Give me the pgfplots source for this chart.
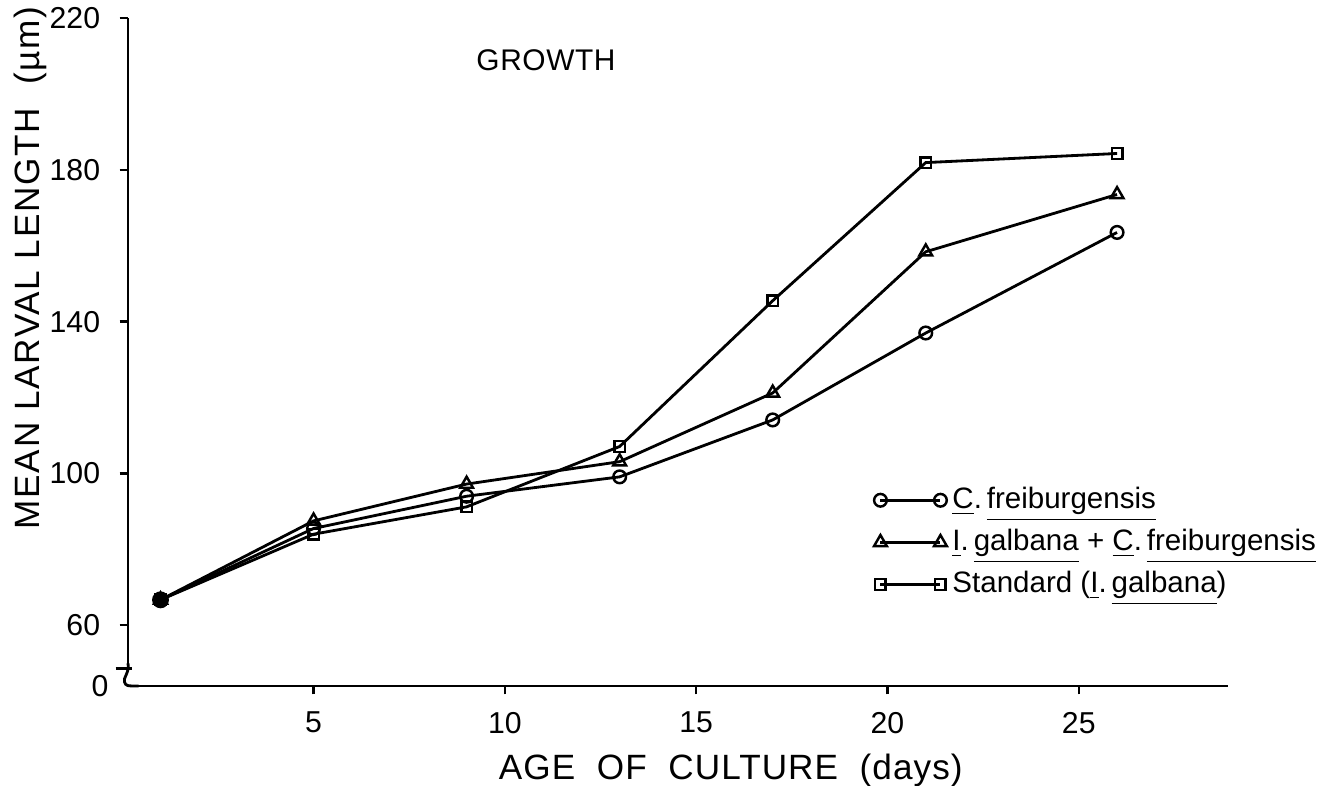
\documentclass[border=0pt]{standalone}
\usepackage{fontspec}
\setmainfont{Liberation Sans}
\newfontfamily\xspaced[LetterSpace=3]{Liberation Sans}
\newfontfamily\yspaced[LetterSpace=5]{Liberation Sans}
\newfontfamily\tspaced[LetterSpace=2]{Liberation Sans}
\usepackage{pgfplots}
\pgfplotsset{compat=1.18}

\begin{document}
\begin{tikzpicture}
\useasboundingbox (-1.28,-1.0) rectangle (11.98,6.86);
\begin{axis}[
    at={(0,0)}, anchor=south west,
    scale only axis, width=11cm, height=6.68cm,
    clip=false,
    xmin=0.15, xmax=28.9,
    ymin=44, ymax=220,
    axis x line=bottom, axis y line=left,
    axis line style={line width=0.8pt, -},
    xtick={5,10,15,20,25},
    ytick={60,100,140,180,220},
    extra y ticks={44}, extra y tick labels={0},
    extra y tick style={major tick length=0pt},
    tick align=outside, major tick length=2.4pt,
    tick style={line width=0.7pt, black},
    ticklabel style={font=\fontsize{8.6}{10}\selectfont},
    /pgf/number format/assume math mode=true,
    xticklabel style={yshift=-1.5pt},
    yticklabel style={xshift=-2pt},
    xlabel={\xspaced AGE\ \ OF\ \ CULTURE\ \ (days)},
    ylabel={\yspaced MEAN LARVAL LENGTH\ \ (µm)},
    xlabel style={at={(axis description cs:0.548,-0.126)}, anchor=center, font=\fontsize{10}{12}\selectfont},
    ylabel style={at={(axis description cs:-0.089,0.626)}, anchor=center, font=\fontsize{10}{12}\selectfont},
    legend style={at={(axis description cs:0.668,0.318)}, anchor=north west,
        draw=none, fill=none, font=\fontsize{8.4}{10}\selectfont, row sep=1.2pt,
        nodes={inner sep=1.6pt}},
    legend cell align=left,
    legend image code/.code={\draw[#1] plot coordinates {(0cm,0cm) (0.6cm,0cm)};},
    every axis plot/.append style={line width=0.8pt, black},
]

% C. freiburgensis
\addplot[mark=o, mark size=1.8pt, mark options={solid, fill=white, line width=0.7pt}]
    coordinates {(1,66.7)(5,85.5)(9,94)(13,99.1)(17,114.1)(21,137)(26,163.5)};
\addlegendentry{\underline{C}.\,\underline{freiburgensis}}

% I. galbana + C. freiburgensis
\addplot[mark=triangle, mark size=2.1pt, mark options={solid, fill=white, line width=0.7pt}]
    coordinates {(1,66.7)(5,87.5)(9,97.2)(13,103.1)(17,121.2)(21,158.4)(26,173.5)};
\addlegendentry{\underline{I}.\,\underline{galbana} + \underline{C}.\,\underline{freiburgensis}}

% Standard (I. galbana)
\addplot[mark=square, mark size=1.5pt, mark options={solid, fill=white, line width=0.7pt}]
    coordinates {(1,66.7)(5,84)(9,91.2)(13,107.1)(17,145.5)(21,181.9)(26,184.3)};
\addlegendentry{Standard (\underline{I}.\,\underline{galbana})}

% day 1: the three marks overlap into one solid dot
\addplot[forget plot, only marks, mark=*, mark size=2pt] coordinates {(1,66.7)};

\node[font=\tspaced\fontsize{8.5}{10}\selectfont] at (rel axis cs:0.38,0.937) {GROWTH};

% axis break mark
\fill[white] ([xshift=-1pt]rel axis cs:0,0.002) rectangle ([xshift=1pt]rel axis cs:0,0.03);
\draw[line width=0.8pt] ([xshift=-3.5pt]rel axis cs:0,0.026) -- ([xshift=1.2pt]rel axis cs:0,0.026);
\draw[line width=0.8pt] (rel axis cs:0,0.034) .. controls ([xshift=0.5pt]rel axis cs:0,0.02) and ([xshift=-1.5pt]rel axis cs:0,0.012) .. ([xshift=-1pt]rel axis cs:0,0.006)
    .. controls ([xshift=-0.5pt]rel axis cs:0,0) .. ([xshift=3pt]rel axis cs:0,0);
\end{axis}
\end{tikzpicture}
\end{document}
